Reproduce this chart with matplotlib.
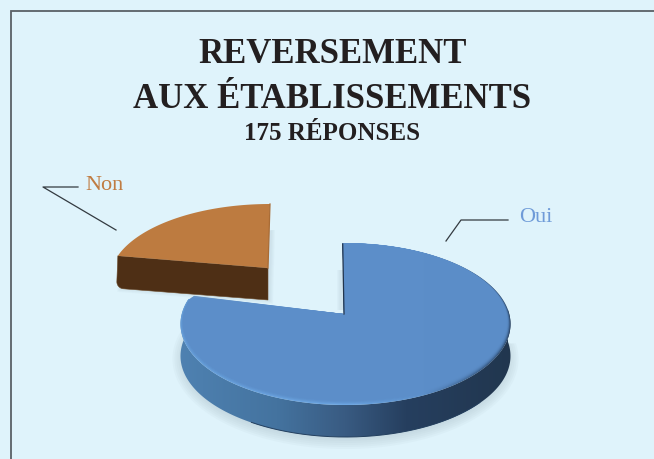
import numpy as np
import matplotlib
matplotlib.use("Agg")
import matplotlib.pyplot as plt
from matplotlib.colors import LinearSegmentedColormap
from matplotlib.patches import Polygon

# Data
categories = ["Oui", "Non"]
shares = [80, 20]
title_lines = ["REVERSEMENT", "AUX ÉTABLISSEMENTS", "175 RÉPONSES"]

BG = "#DFF3FB"
fig = plt.figure(figsize=(6.54, 4.59), dpi=100, facecolor=BG)
ax = fig.add_axes([0, 0, 1, 1])
ax.set_axis_off()
grad = np.linspace(0, 1, 512)[None, :]


def arc(cx, cy, rx, ry, t0, t1, n=200):
    t = np.radians(np.linspace(t0, t1, n))
    return np.column_stack([cx + rx * np.sin(t), cy - ry * np.cos(t)])


def fill_gradient(poly_pts, stops, x0, x1, y0, y1, z):
    cmap = LinearSegmentedColormap.from_list("g", stops)
    im = ax.imshow(grad, extent=(x0, x1, y1, y0), cmap=cmap, aspect="auto", zorder=z)
    clip = Polygon(poly_pts, closed=True, transform=ax.transData, fc="none", ec="none")
    ax.add_patch(clip)
    im.set_clip_path(clip)


total = sum(shares)
oui_deg = 360 * shares[0] / total
non_deg = 360 * shares[1] / total

# ---- Oui wedge geometry
B_CX, B_CY, B_RX, B_RY = 345.5, 324, 165, 81
B_APEX = (344, 314)
DEPTH = 32
SHADOW = "#A9BEC9"

# soft shadow of Oui
for k in range(7):
    ax.add_patch(Polygon(arc(B_CX, B_CY + DEPTH + 3, B_RX + 8 - 2 * k, B_RY + 9 - 2 * k, 80, 295),
                         closed=True, fc=SHADOW, ec="none", alpha=0.09, zorder=1))
for k in range(4):
    ax.add_patch(Polygon([[342 - 5 + k, 270], [345, 270], [345, 310], [342 - 5 + k, 310]],
                         closed=True, fc=SHADOW, ec="none", alpha=0.08, zorder=1))

# side wall of Oui
top = arc(B_CX, B_CY, B_RX, B_RY, 80, oui_deg)
side = np.vstack([top, (top + [0, DEPTH])[::-1]])
fill_gradient(side,
              [(0, "#4F82B2"), (0.3, "#44739F"), (0.5, "#395B82"), (0.68, "#263F5F"), (1, "#21364E")],
              175, 515, 230, 445, 2)
# darker lower edge only along the front of the wall
bottom_arc = arc(B_CX, B_CY, B_RX - 1, B_RY, 125, 215) + [0, DEPTH]
ax.plot(bottom_arc[:, 0], bottom_arc[:, 1], color="#24405F", lw=0.7, zorder=2.1)


def oui_face(rx, ry, cy):
    a = arc(B_CX, cy, rx, ry, 0, oui_deg)
    return np.vstack([[B_APEX], [[342.7, 243]], a])


# bevel: coloured rim, covered by the shrinking face
fill_gradient(oui_face(B_RX, B_RY, B_CY),
              [(0, "#6AA3DE"), (0.5, "#70ABE8"), (0.72, "#5F93CE"), (0.9, "#34557E"), (1, "#263F5F")],
              175, 515, 230, 445, 3)
FACE = "#5C8EC9"
for k in range(12):
    f = oui_face(B_RX - 0.3 - 0.5 * k, B_RY - 0.3 - 0.42 * k, B_CY - 0.42 * k)
    ax.add_patch(Polygon(f, closed=True, fc=FACE, ec="none", alpha=0.22 + 0.07 * k, zorder=3.5))
ax.plot([342.7, 344], [244, 314], color="#22354D", lw=0.9, zorder=3.6)

# ---- Non wedge geometry
N_CX, N_CY, N_RX, N_RY = 270, 279, 160, 75
N_APEX = np.array([268, 268])
N_DEPTH = 32

n_arc = arc(N_CX, N_CY, N_RX, N_RY, 360 - non_deg, 360)
n_left = n_arc[0]
# shadow of Non
for k in range(4):
    ax.add_patch(Polygon([[n_left[0] - 1, n_left[1] + N_DEPTH + 1 + k], [N_APEX[0] + 2 + k, N_APEX[1] + N_DEPTH + 1 + k],
                          [n_arc[-1][0] + 2 + k, 230], [n_left[0] + 60, 240]],
                         closed=True, fc=SHADOW, ec="none", alpha=0.08, zorder=4))
# front wall with rounded lower corner
t = np.radians(np.linspace(180, 90, 12))
corner = np.column_stack([n_left[0] + 6 + 7 * np.cos(t), n_left[1] + N_DEPTH - 6 + 7 * np.sin(t)])
wall = np.vstack([[N_APEX], [n_left], corner, [N_APEX + [0, N_DEPTH]]])
ax.add_patch(Polygon(wall, closed=True, fc="#4E2F15", ec="#6A4A2A", lw=0.4, zorder=5))
# top of Non
ax.add_patch(Polygon(np.vstack([[N_APEX], n_arc]), closed=True, fc="#BD7B40", ec="none", zorder=5.1))
ax.plot([n_arc[-1][0], N_APEX[0]], [n_arc[-1][1], N_APEX[1]], color="#A96C36", lw=0.9, zorder=5.2)

# ---- Leader lines
ax.plot([78, 43, 116], [187, 187, 230], color="#333A40", lw=0.9, zorder=6)
ax.plot([508, 461, 446], [220, 220, 241], color="#333A40", lw=0.9, zorder=6)

# ---- Labels
ax.text(105, 190.5, categories[1], color="#C07C42", fontsize=16, family="Liberation Serif",
        ha="center", va="baseline", zorder=7)
ax.text(535.5, 222, categories[0], color="#6F9BD8", fontsize=16, family="Liberation Serif",
        ha="center", va="baseline", zorder=7)

# ---- Titles
TITLE = "#231F20"
for line, y, size in zip(title_lines, [63, 108, 140], [25, 25, 18]):
    ax.text(332.5, y, line, color=TITLE, fontsize=size, fontweight="bold",
            family="Liberation Serif", ha="center", va="baseline", zorder=7)

# ---- Frame
ax.plot([10.5, 10.5, 654], [459, 10.5, 10.5], color="#5A6066", lw=1.3, zorder=8, solid_joinstyle="miter")

ax.set_xlim(0, 654)
ax.set_ylim(459, 0)
fig.savefig("out.png", dpi=100, facecolor=BG)
